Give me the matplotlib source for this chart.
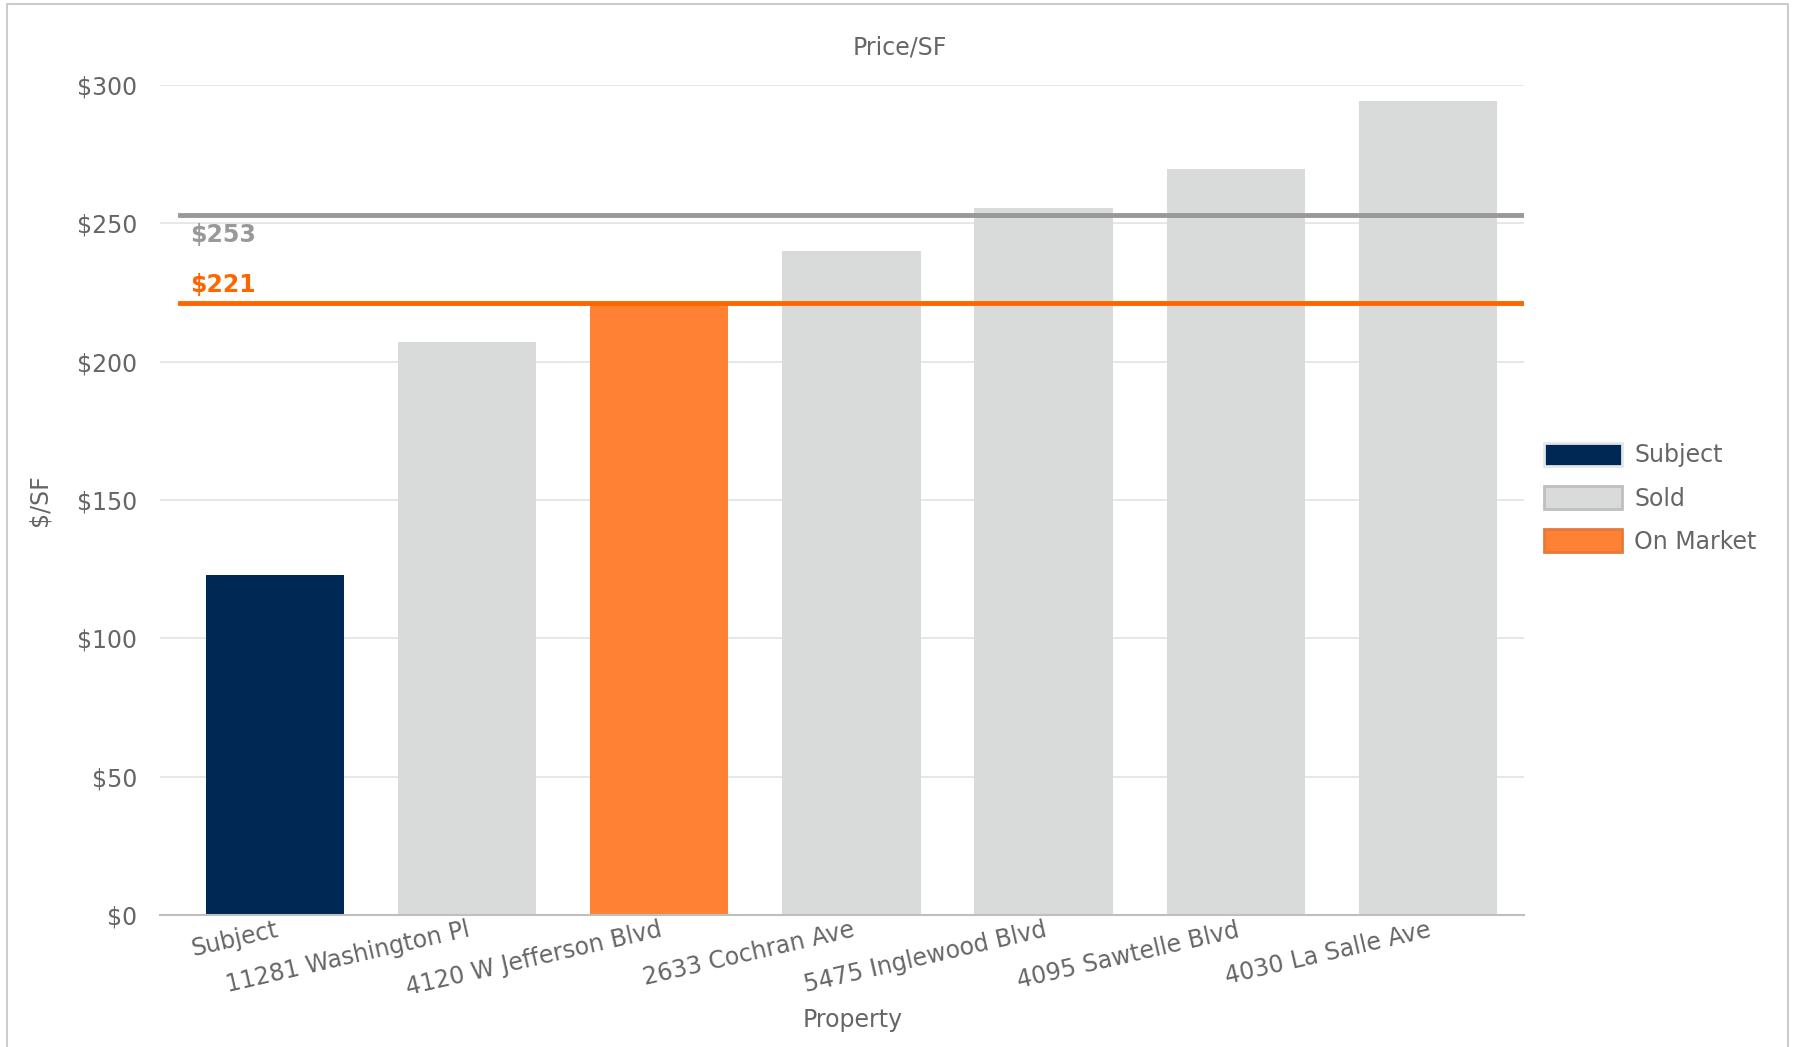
import matplotlib.pyplot as plt
from matplotlib.patches import Patch
from matplotlib.lines import Line2D

properties = ['Subject', '11281 Washington Pl', '4120 W Jefferson Blvd', '2633 Cochran Ave',
              '5475 Inglewood Blvd', '4095 Sawtelle Blvd', '4030 La Salle Ave']
price_sf = [123, 207, 221, 240, 255.5, 269.5, 294]
status = ['Subject', 'Sold', 'On Market', 'Sold', 'Sold', 'Sold', 'Sold']
avg_sold = 253
avg_market = 221

colors = {'Subject': '#002855', 'Sold': '#D9DADA', 'On Market': '#FF8133'}
text_c = '#666666'

fig = plt.figure(figsize=(17.93, 10.47), dpi=100)
ax = fig.add_axes([0.089, 0.126, 0.761, 0.793])

x = range(len(properties))
ax.bar(x, price_sf, width=0.72, color=[colors[s] for s in status], zorder=2)

ax.axhline(avg_sold, xmin=0.015, xmax=1, color='#999999', lw=3.5, zorder=3)
ax.axhline(avg_market, xmin=0.015, xmax=1, color='#FF6600', lw=3.5, zorder=3)
ax.text(-0.44, avg_sold - 3, '$253', color='#999999', fontsize=17, fontweight='bold', va='top')
ax.text(-0.44, avg_market + 2.5, '$221', color='#FF6600', fontsize=17, fontweight='bold', va='bottom')

ax.set_xlim(-0.6, 6.5)
ax.set_ylim(0, 300)
ax.set_yticks(range(0, 301, 50))
ax.set_yticklabels(['$' + str(v) for v in range(0, 301, 50)])
ax.set_xticks(list(x))
ax.set_xticklabels(properties, rotation=13, ha='right', va='top', rotation_mode='anchor')
ax.tick_params(axis='both', length=0, labelsize=17, labelcolor=text_c)
ax.tick_params(axis='y', pad=16)
ax.tick_params(axis='x', pad=2)

ax.grid(axis='y', color='#E3E3E3', lw=1.2, zorder=0)
for s in ['top', 'right', 'left']:
    ax.spines[s].set_visible(False)
ax.spines['bottom'].set_color('#BFBFBF')
ax.spines['bottom'].set_linewidth(1.5)

fig.text(0.502, 0.955, 'Price/SF', fontsize=17, color=text_c, ha='center', va='center')
ax.set_xlabel('Property', fontsize=17, color=text_c)
ax.xaxis.set_label_coords(0.508, -0.112)
ax.set_ylabel('$/SF', fontsize=17, color=text_c)
ax.yaxis.set_label_coords(-0.079, 0.5)

handles = [Patch(facecolor=colors[k], edgecolor=e, lw=2) for k, e in
           [('Subject', '#E6E6E6'), ('Sold', '#BFBFBF'), ('On Market', '#E6793A')]]
fig.legend(handles, ['Subject', 'Sold', 'On Market'], loc='center left',
           bbox_to_anchor=(0.8495, 0.524), frameon=False, fontsize=17,
           labelcolor=text_c, handlelength=3.3, handleheight=1.1, labelspacing=0.8,
           handletextpad=0.5)

# outer border
fig.add_artist(Line2D([0.004, 0.004, 0.997, 0.997], [0.0, 0.996, 0.996, 0.0],
                      color='#CCCCCC', lw=1.5, transform=fig.transFigure))

fig.savefig('out.png', dpi=100)
